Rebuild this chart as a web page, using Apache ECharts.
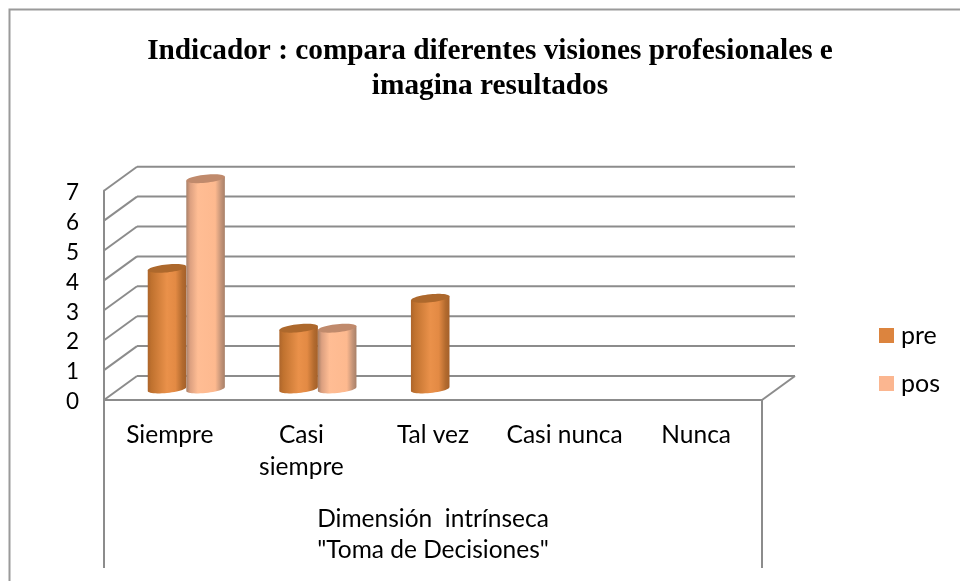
<!DOCTYPE html>
<html><head><meta charset="utf-8">
<style>html,body{margin:0;padding:0;background:#fff}#c{width:960px;height:581px}</style>
<script src="https://cdn.jsdelivr.net/npm/echarts@6/dist/echarts.min.js"></script>
</head><body><div id="c"></div>
<script>
const categories = ['Siempre', 'Casi\nsiempre', 'Tal vez', 'Casi nunca', 'Nunca'];
const groupLabel = ['Dimensión  intrínseca\n"Toma de Decisiones"'];
const preValues = [4, 2, 3, 0, 0];
const posValues = [7, 2, 0, 0, 0];
const yTicks = [0, 1, 2, 3, 4, 5, 6, 7];

const DEPTH_X = 33, DEPTH_Y = -24;
const WALL = '#8c8c8c';
const FONT = 'Lato';

function wallItem(params, api) {
  const v = api.value(0);
  const w = api.size([1, 0])[0];
  const p = api.coord([0, v]);
  const xL = p[0] - w / 2, xR = xL + w * 5, y = p[1];
  const st = { stroke: WALL, lineWidth: 2, fill: null };
  const kids = [
    { type: 'line', shape: { x1: xL, y1: y, x2: xL + DEPTH_X, y2: y + DEPTH_Y }, style: st },
    { type: 'line', shape: { x1: xL + DEPTH_X, y1: y + DEPTH_Y, x2: xR + DEPTH_X, y2: y + DEPTH_Y }, style: st }
  ];
  if (v === 0) {
    kids.push({ type: 'line', shape: { x1: xL, y1: y, x2: xR, y2: y }, style: st });
    kids.push({ type: 'line', shape: { x1: xR, y1: y, x2: xR + DEPTH_X, y2: y + DEPTH_Y }, style: st });
  }
  return { type: 'group', children: kids };
}

function cylinder(slot, stops, topColor) {
  return function (params, api) {
    const val = api.value(1);
    if (!val) return null;
    const w = api.size([1, 0])[0];
    const bw = w * 0.293;
    const a = bw / 2, b = 4, tilt = 0.1;
    const top = api.coord([api.value(0), val]);
    const base = api.coord([api.value(0), 0]);
    const cx = top[0] + DEPTH_X / 2 + (slot === 0 ? -a : a);
    const yT = top[1] + DEPTH_Y / 2, yB = base[1] + DEPTH_Y / 2 + 1;
    const pt = (cy, t) => [cx + a * Math.cos(t), cy + b * Math.sin(t) - tilt * a * Math.cos(t)];
    const body = [pt(yT, Math.PI), pt(yT, 0)];
    for (let i = 0; i <= 24; i++) body.push(pt(yB, Math.PI * i / 24));
    const cap = [];
    for (let i = 0; i < 48; i++) cap.push(pt(yT, 2 * Math.PI * i / 48));
    return {
      type: 'group',
      children: [
        { type: 'polygon', shape: { points: body }, style: {
            fill: { type: 'linear', x: 0, y: 0, x2: 1, y2: 0, colorStops: stops } } },
        { type: 'polygon', shape: { points: cap }, style: { fill: topColor } }
      ]
    };
  };
}

const preStops = [
  { offset: 0, color: '#ad652b' }, { offset: 0.1, color: '#c0722f' }, { offset: 0.5, color: '#ea914a' },
  { offset: 0.72, color: '#e38a44' }, { offset: 0.9, color: '#b26a2e' }, { offset: 1, color: '#a4602a' }];
const posStops = [
  { offset: 0, color: '#a88068' }, { offset: 0.1, color: '#dca080' }, { offset: 0.3, color: '#ffbd94' },
  { offset: 0.75, color: '#fdb98f' }, { offset: 0.9, color: '#c49478' }, { offset: 1, color: '#a88068' }];

const chart = echarts.init(document.getElementById('c'), null, { renderer: 'canvas' });
chart.setOption({
  backgroundColor: '#fff',
  animation: false,
  textStyle: { fontFamily: FONT },
  title: {
    text: 'Indicador : compara diferentes visiones profesionales e\nimagina resultados',
    left: 485, top: 29, textAlign: 'center',
    textStyle: { fontFamily: 'Liberation Serif', fontWeight: 'bold', fontSize: 29.3, lineHeight: 35, color: '#000' }
  },
  graphic: [{ type: 'rect', silent: true, z: -1,
    shape: { x: 9.5, y: 9.5, width: 1000, height: 600 },
    style: { fill: null, stroke: '#9a9a9a', lineWidth: 2 } }],
  legend: {
    data: ['pre', 'pos'], orient: 'vertical', left: 874, top: 318,
    itemWidth: 15, itemHeight: 15, itemGap: 23, icon: 'rect',
    textStyle: { fontFamily: FONT, fontSize: 25, color: '#000', padding: [0, 0, 0, 2] }
  },
  grid: { left: 104, right: 198, top: 190.7, bottom: 181 },
  xAxis: [
    { type: 'category', data: categories, position: 'bottom',
      axisLine: { show: false }, axisTick: { show: false },
      axisLabel: { interval: 0, margin: 19, fontFamily: FONT, fontSize: 24.5, lineHeight: 32, color: '#000' } },
    { type: 'category', data: groupLabel, position: 'bottom',
      axisLine: { show: false },
      axisTick: { show: true, length: 168, lineStyle: { color: WALL, width: 2 } },
      axisLabel: { interval: 0, margin: 104, fontFamily: FONT, fontSize: 24.5, lineHeight: 31, color: '#000' } }
  ],
  yAxis: {
    type: 'value', min: 0, max: 7, interval: 1,
    axisLine: { show: true, lineStyle: { color: WALL, width: 2 } },
    axisTick: { show: false }, splitLine: { show: false },
    axisLabel: { margin: 25, verticalAlign: 'top', lineHeight: 4, fontFamily: FONT, fontSize: 22.5, color: '#000', formatter: v => yTicks.includes(v) ? String(v) : '' }
  },
  series: [
    { type: 'custom', name: 'walls', silent: true, clip: false, z: 1, renderItem: wallItem,
      data: yTicks.map(v => [v]), encode: { y: 0 } },
    { type: 'custom', name: 'pre', clip: false, z: 2, itemStyle: { color: '#dc843e' },
      renderItem: cylinder(0, preStops, '#ad682c'),
      data: preValues.map((v, i) => [i, v]), encode: { x: 0, y: 1 } },
    { type: 'custom', name: 'pos', clip: false, z: 3, itemStyle: { color: '#fbb690' },
      renderItem: cylinder(1, posStops, '#c08a6c'),
      data: posValues.map((v, i) => [i, v]), encode: { x: 0, y: 1 } }
  ]
});
</script></body></html>
